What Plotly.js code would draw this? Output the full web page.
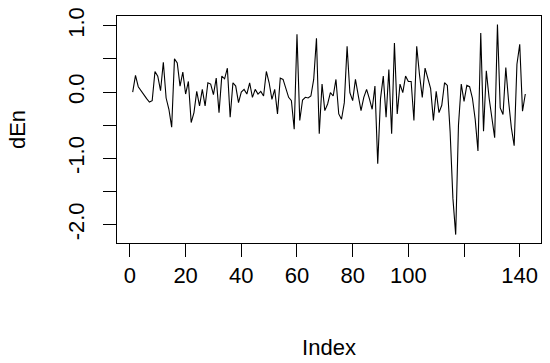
<!DOCTYPE html>
<html>
<head>
<meta charset="utf-8">
<script src="https://cdn.plot.ly/plotly-3.0.1.min.js"></script>
<style>
  html, body { margin: 0; padding: 0; background: #fff; }
  #plot { width: 550px; height: 363px; }
</style>
</head>
<body>
<div id="plot"></div>
<script>
// dEn series (index 1..142)
const dEn = [
  0.00, 0.25, 0.08, 0.02, -0.05, -0.10, -0.15, -0.13, 0.31, 0.24,
  0.02, 0.45, -0.09, -0.26, -0.53, 0.50, 0.44, 0.09, 0.30, -0.03,
  0.16, -0.46, -0.31, 0.01, -0.21, 0.04, -0.21, 0.14, 0.12, -0.04,
  0.21, -0.31, 0.24, 0.20, 0.36, -0.38, 0.14, 0.09, -0.16, 0.00,
  0.04, -0.03, 0.14, -0.08, 0.04, -0.03, 0.01, -0.06, 0.31, 0.14,
  -0.11, 0.04, -0.33, 0.21, 0.19, 0.04, -0.08, -0.13, -0.56, 0.87,
  -0.43, -0.12, -0.08, -0.09, -0.06, 0.19, 0.81, -0.63, 0.12, -0.28,
  -0.18, -0.01, -0.06, 0.19, -0.33, -0.41, -0.16, 0.69, -0.01, -0.13,
  0.19, -0.05, -0.28, -0.08, 0.04, -0.10, -0.26, 0.09, -1.08, -0.10,
  0.24, -0.38, 0.34, -0.63, 0.74, -0.33, 0.12, -0.01, 0.24, 0.16,
  0.16, -0.43, 0.69, 0.26, -0.08, 0.36, 0.20, 0.05, -0.43, 0.01,
  -0.31, -0.20, 0.14, 0.10, -0.60, -1.60, -2.15, -0.50, 0.12, -0.14,
  0.10, 0.08, -0.09, -0.41, -0.89, 0.89, -0.59, 0.32, -0.09, -0.39,
  -0.69, 1.02, -0.24, -0.34, 0.37, -0.14, -0.54, -0.81, 0.42, 0.72,
  -0.29, -0.03
];
const index = dEn.map((v, i) => i + 1);

const xTickVals = [0, 20, 40, 60, 80, 100, 120, 140];
const xTickText = ["0", "20", "40", "60", "80", "100", "", "140"];
const yTickVals = [-2, -1.5, -1, -0.5, 0, 0.5, 1];
const yTickText = ["-2.0", "", "-1.0", "", "0.0", "", "1.0"];

// R style range: data range padded by 4% on each side
function rRange(arr) {
  let lo = Math.min(...arr), hi = Math.max(...arr);
  let pad = (hi - lo) * 0.04;
  return [lo - pad, hi + pad];
}

const font = {family: "Liberation Sans, Arial, sans-serif", size: 22, color: "#000"};

const trace = {
  x: index,
  y: dEn,
  type: "scatter",
  mode: "lines",
  line: {color: "#000", width: 1.1},
  hoverinfo: "skip",
};

const axisBase = {
  showline: true,
  linecolor: "#000",
  linewidth: 1,
  mirror: true,
  showgrid: false,
  zeroline: false,
  ticks: "outside",
  ticklen: 13,
  tickwidth: 1,
  tickcolor: "#000",
  tickmode: "array",
  tickfont: font,
};

const layout = {
  width: 550,
  height: 363,
  margin: {l: 117, r: 9, t: 16, b: 120},
  paper_bgcolor: "#fff",
  plot_bgcolor: "#fff",
  showlegend: false,
  font: font,
  xaxis: Object.assign({}, axisBase, {
    range: rRange(index),
    tickvals: xTickVals,
    ticktext: xTickText,
    ticklabelstandoff: 0,
    title: {text: "Index", font: font, standoff: 52},
  }),
  yaxis: Object.assign({}, axisBase, {
    range: rRange(dEn),
    tickvals: yTickVals,
    ticktext: yTickText,
    tickangle: -90,
    ticklabelstandoff: 10,
    title: {text: "dEn", font: font, standoff: 32},
  }),
};

Plotly.newPlot("plot", [trace], layout, {staticPlot: true, displayModeBar: false});
</script>
</body>
</html>
